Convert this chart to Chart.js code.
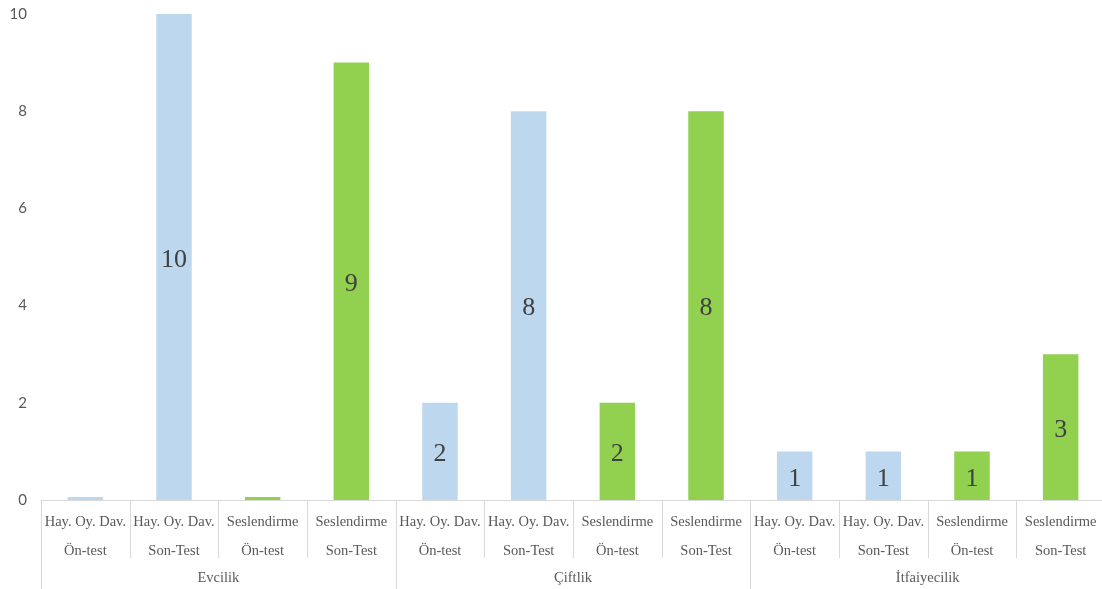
<!DOCTYPE html>
<html><head><meta charset="utf-8">
<script src="https://cdn.jsdelivr.net/npm/chart.js@4"></script>
<style>html,body{margin:0;padding:0;background:#fff;overflow:hidden}#wrap{width:1105px;height:589px;position:relative}</style>
</head><body><div id="wrap"><canvas id="c"></canvas></div>
<script>
const line1 = ["Hay. Oy. Dav.","Hay. Oy. Dav.","Seslendirme","Seslendirme","Hay. Oy. Dav.","Hay. Oy. Dav.","Seslendirme","Seslendirme","Hay. Oy. Dav.","Hay. Oy. Dav.","Seslendirme","Seslendirme"];
const line2 = ["Ön-test","Son-Test","Ön-test","Son-Test","Ön-test","Son-Test","Ön-test","Son-Test","Ön-test","Son-Test","Ön-test","Son-Test"];
const groups = ["Evcilik","Çiftlik","İtfaiyecilik"];
const values = [0,10,0,9,2,8,2,8,1,1,1,3];
const colors = ["#BDD7EE","#BDD7EE","#92D050","#92D050","#BDD7EE","#BDD7EE","#92D050","#92D050","#BDD7EE","#BDD7EE","#92D050","#92D050"];
const yTicks = [0,2,4,6,8,10];

const labels = line1.map((l,i)=>[l,line2[i]]);
const serif = "'Liberation Serif', 'DejaVu Serif', serif";

const axisPlugin = {
  id:'multiAxis',
  afterDraw(chart){
    const ctx = chart.ctx, x = chart.scales.x, area = chart.chartArea;
    const n = labels.length;
    const w = (area.right-area.left)/n;
    ctx.save();
    ctx.strokeStyle = '#D9D9D9';
    ctx.lineWidth = 1;
    ctx.beginPath();
    ctx.moveTo(area.left, area.bottom+0.5); ctx.lineTo(area.right, area.bottom+0.5);
    for(let i=0;i<=n;i++){
      const px = Math.round(x.getPixelForValue(i) - w/2) + 0.5;
      const isGroup = (i%4===0);
      ctx.moveTo(px, area.bottom);
      ctx.lineTo(px, isGroup ? chart.height : area.bottom+58);
    }
    ctx.stroke();
    ctx.fillStyle = '#595959';
    ctx.font = "14.5px " + serif;
    ctx.textAlign='center'; ctx.textBaseline='middle';
    groups.forEach((g,gi)=>{
      const cx = (x.getPixelForValue(gi*4) + x.getPixelForValue(gi*4+3))/2;
      ctx.fillText(g, cx, area.bottom+78);
    });
    ctx.fillStyle = '#404040';
    ctx.font = "26px " + serif;
    const meta = chart.getDatasetMeta(0);
    meta.data.forEach((bar,i)=>{
      if(values[i] > 0){
        ctx.fillText(String(values[i]), bar.x, (bar.y+bar.base)/2 + 3);
      }
    });
    ctx.restore();
  }
};

new Chart(document.getElementById('c'), {
  type:'bar',
  data:{labels, datasets:[{data:values, backgroundColor:colors, barPercentage:0.4, categoryPercentage:1, minBarLength:3}]},
  options:{
    responsive:true, maintainAspectRatio:false, animation:false,
    layout:{padding:{top:14,left:0,right:0,bottom:0}},
    plugins:{legend:{display:false}, tooltip:{enabled:false}},
    scales:{
      x:{
        grid:{display:false, drawTicks:false}, border:{display:false},
        ticks:{color:'#595959', font:{family:serif,size:14.5,lineHeight:2}, padding:8, maxRotation:0, autoSkip:false},
        afterFit(s){ s.height = 89; s.paddingLeft = 0; s.paddingRight = 0; }
      },
      y:{
        min:0, max:10,
        grid:{display:false, drawTicks:false}, border:{display:false},
        afterBuildTicks(s){ s.ticks = yTicks.map(v=>({value:v})); },
        ticks:{color:'#595959', font:{family:"Lato, 'Open Sans', sans-serif", size:15}, padding:14},
        afterFit(s){ s.width = 41; s.paddingTop = 0; s.paddingBottom = 0; }
      }
    }
  },
  plugins:[axisPlugin]
});
</script></body></html>
